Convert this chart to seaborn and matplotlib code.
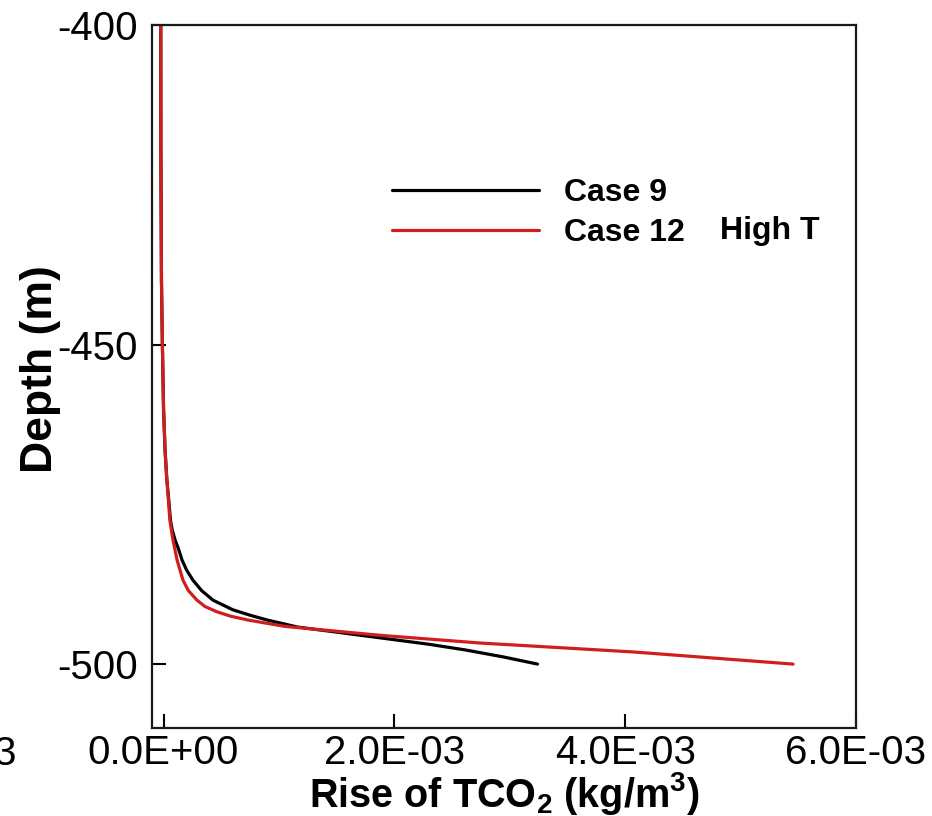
import numpy as np
import pandas as pd
import matplotlib
matplotlib.use("Agg")
import matplotlib.pyplot as plt
import matplotlib.transforms as mtransforms
import seaborn as sns

# values
depth_case9 = [-400, -420, -440, -450, -460, -466.5, -471, -474.3, -477.5, -479.0,
               -480.6, -482.0, -483.7, -485.3, -486.9, -488.5, -490.0, -491.5,
               -492.3, -493.1, -494.2, -495.0, -495.9, -496.9, -497.8, -498.9, -500]
rise_case9 = [-0.24e-4, -0.23e-4, -0.18e-4, -0.10e-4, 0.0, 0.13e-4, 0.28e-4, 0.45e-4,
              0.60e-4, 0.75e-4, 1.0e-4, 1.3e-4, 1.6e-4, 2.0e-4, 2.56e-4, 3.3e-4,
              4.29e-4, 6.0e-4, 7.4e-4, 8.97e-4, 1.16e-3, 1.5e-3, 1.88e-3, 2.30e-3,
              2.62e-3, 2.95e-3, 3.24e-3]

depth_case12 = [-400, -420, -440, -450, -460, -466.5, -471, -474.3, -477.5, -479.0,
                -480.6, -483.7, -486.9, -488.5, -490.0, -491.0, -491.8, -492.5,
                -493.1, -494.1, -495.5, -496.7, -498.1, -500]
rise_case12 = [-0.24e-4, -0.23e-4, -0.18e-4, -0.10e-4, 0.0, 0.13e-4, 0.28e-4, 0.42e-4,
               0.55e-4, 0.68e-4, 0.82e-4, 1.17e-4, 1.69e-4, 2.15e-4, 2.9e-4, 3.6e-4,
               4.6e-4, 5.8e-4, 7.3e-4, 1.05e-3, 1.88e-3, 2.74e-3, 4.07e-3, 5.455e-3]

x_ticks = [-2e-3, 0.0, 2e-3, 4e-3, 6e-3]
x_tick_labels = ["-2.0E-03", "0.0E+00", "2.0E-03", "4.0E-03", "6.0E-03"]
y_ticks = [-400, -450, -500]
y_tick_labels = ["-400", "-450", "-500"]

df = pd.concat([
    pd.DataFrame({"rise": rise_case9, "depth": depth_case9, "case": "Case 9"}),
    pd.DataFrame({"rise": rise_case12, "depth": depth_case12, "case": "Case 12"}),
], ignore_index=True)

sns.set_style("ticks")
plt.rcParams["font.family"] = ["Liberation Sans", "DejaVu Sans"]
plt.rcParams["text.color"] = "black"
plt.rcParams["axes.labelcolor"] = "black"
plt.rcParams["mathtext.fontset"] = "custom"
plt.rcParams["mathtext.rm"] = "Liberation Sans:bold"
plt.rcParams["mathtext.it"] = "Liberation Sans:bold"
plt.rcParams["mathtext.bf"] = "Liberation Sans:bold"

fig = plt.figure(figsize=(9.32, 8.16), dpi=100)
ax = fig.add_axes([152 / 932, 1 - 728 / 816, 704 / 932, 703 / 816])

sns.lineplot(data=df, x="rise", y="depth", hue="case", sort=False, estimator=None,
             palette={"Case 9": "black", "Case 12": "#d01e1e"}, linewidth=2.3, ax=ax)

ax.set_xlim(-1e-4, 6e-3)
ax.set_ylim(-510, -400)

ax.set_xticks(x_ticks[1:])
ax.set_xticklabels(x_tick_labels[1:])
ax.set_yticks(y_ticks)
ax.set_yticklabels(y_tick_labels)
ax.tick_params(axis="both", direction="in", length=10, width=1.5, labelsize=29,
               colors="black")
ax.tick_params(axis="x", pad=4)
ax.tick_params(axis="y", pad=10)
for sp in ax.spines.values():
    sp.set_linewidth(1.6)
    sp.set_color("#1a1a1a")

# the clipped tick label at the left edge of the picture
trans = mtransforms.blended_transform_factory(ax.transData, ax.transAxes)
trans = trans + mtransforms.ScaledTranslation(7 / 100, 0, fig.dpi_scale_trans)
ax.text(x_ticks[0], -0.01, x_tick_labels[0], transform=trans, ha="center", va="top",
        fontsize=29, clip_on=False)

ax.set_xlabel("Rise of TCO$_2$ (kg/m$^3$)", fontsize=28.5, fontweight="bold")
ax.xaxis.set_label_coords(0.5, -0.060)
ax.set_ylabel("Depth (m)", fontsize=32, fontweight="bold", va="center")
ax.yaxis.set_label_coords(-0.159, 0.51)

handles, labels = ax.get_legend_handles_labels()
leg = ax.legend(handles, labels, frameon=False, loc="center left",
                bbox_to_anchor=(392 / 932, 1 - 213 / 816), bbox_transform=fig.transFigure,
                borderpad=0, borderaxespad=0, handlelength=4.6, handletextpad=0.8,
                labelspacing=0.33, prop={"weight": "bold", "size": 23})
for line in leg.get_lines():
    line.set_linewidth(2.3)
for t in leg.get_texts():
    t.set_color("black")

fig.text(720 / 932, 1 - 231 / 816, "High T", fontsize=23, fontweight="bold",
         ha="left", va="center")

fig.savefig("out.png", dpi=100)
